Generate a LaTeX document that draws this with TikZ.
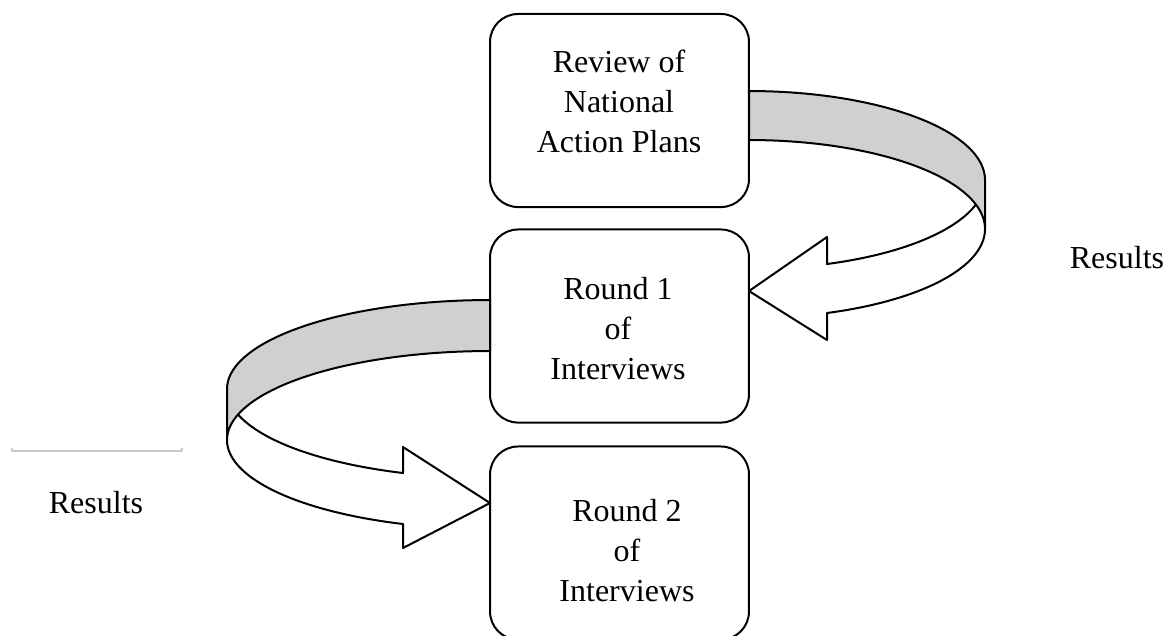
\documentclass[tikz,border=0pt]{standalone}
\usepackage{fontspec}
\setmainfont{Liberation Serif}
\definecolor{ribbongray}{RGB}{208,208,208}
\definecolor{faintgray}{RGB}{200,200,200}
\begin{document}
\begin{tikzpicture}[x=0.375pt,y=-0.375pt,line width=0.75pt,line join=round,
  stepbox/.style={draw,rounded corners=10.5pt,minimum width=97.1pt,minimum height=72.4pt,inner sep=0pt},
  boxtext/.style={align=center,inner sep=0pt,font=\fontsize{12pt}{15pt}\selectfont},
  lbl/.style={anchor=base,inner sep=0pt,font=\fontsize{12pt}{15pt}\selectfont},
  backface/.style={fill=ribbongray,draw=black},
  frontface/.style={draw=black}]
\useasboundingbox (0,0) rectangle (1168,635);

% right ribbon arrow (box 1 -> box 2)
\path[backface] plot[domain=90:0,samples=60] ({749+236*cos(\x)},{180-89*sin(\x)})
  -- plot[domain=0:90,samples=60] ({749+236*cos(\x)},{229-89*sin(\x)}) -- cycle;
\path[frontface] plot[domain=16:70.7,samples=60] ({749+236*cos(\x)},{180+89*sin(\x)})
  -- (827,237) -- (749,291) -- (827,340)
  -- plot[domain=70.7:0,samples=60] ({749+236*cos(\x)},{229+89*sin(\x)});

% left ribbon arrow (box 2 -> box 3)
\path[backface] plot[domain=90:0,samples=60] ({490-263*cos(\x)},{389-89*sin(\x)})
  -- plot[domain=0:90,samples=60] ({490-263*cos(\x)},{440-89*sin(\x)}) -- cycle;
\path[frontface] plot[domain=16.65:70.7,samples=60] ({490-263*cos(\x)},{389+89*sin(\x)})
  -- (403,447) -- (490,503) -- (403,548)
  -- plot[domain=70.7:0,samples=60] ({490-263*cos(\x)},{440+89*sin(\x)});

% boxes
\node[stepbox] (b1) at (619.5,110.5) {};
\node[stepbox] (b2) at (619.5,326) {};
\node[stepbox] (b3) at (619.5,543) {};

\node[boxtext] (t1) at (619,101) {Review of\\National\\Action Plans};
\node[boxtext] (t2) at (618,329) {Round 1\\of\\Interviews};
\node[boxtext] (t3) at (627,551) {Round 2\\of\\Interviews};

% labels
\node[lbl] (r1) at (1117,268) {Results};
\node[lbl] (r2) at (96,513) {Results};
\draw[faintgray,line width=0.4pt] (12,448) -- (12,451) -- (182,451) -- (182,448);
\end{tikzpicture}
\end{document}
